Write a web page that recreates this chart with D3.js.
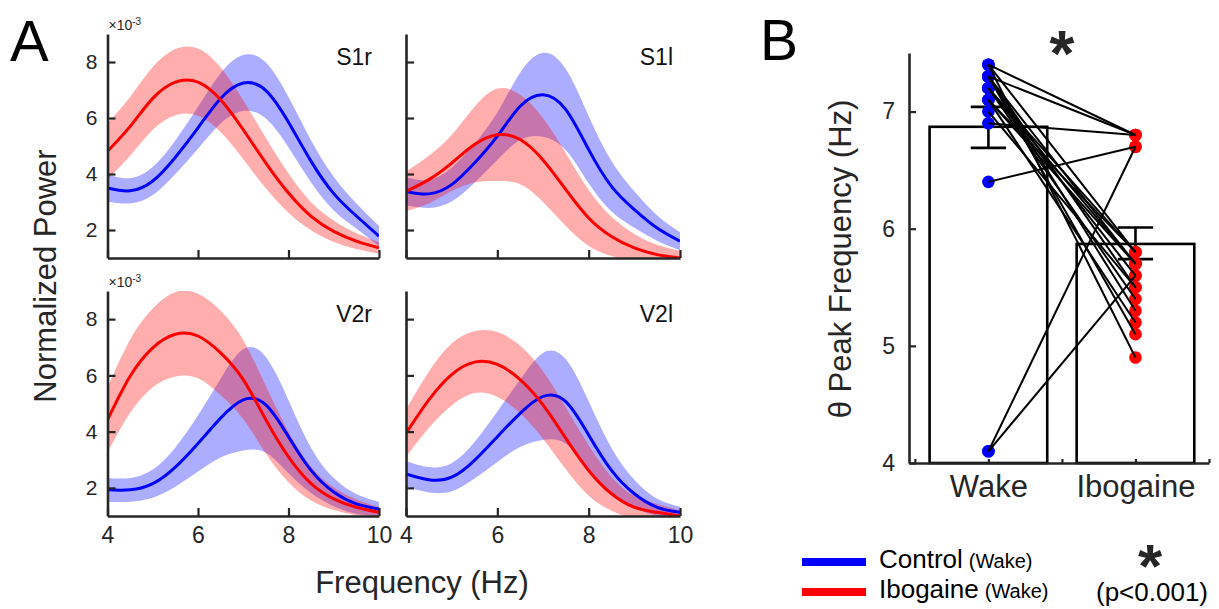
<!DOCTYPE html>
<html>
<head>
<meta charset="utf-8">
<script src="https://cdn.jsdelivr.net/npm/d3@7"></script>
<style>
  body { margin: 0; background: #fff; }
  text { font-family: "Liberation Sans", Arial, sans-serif; }
</style>
</head>
<body>
<svg id="chart" width="1219" height="609"></svg>
<script>
// ---- panel A data (normalized power, x10^-3) ----
var freqs = [4, 4.5, 5, 5.5, 6, 6.5, 7, 7.5, 8, 8.5, 9, 9.5, 10];

var s1rControl     = [3.50, 3.40, 3.75, 4.60, 5.65, 6.70, 7.25, 6.98, 5.85, 4.45, 3.30, 2.50, 1.78];
var s1rControlSem  = [0.48, 0.45, 0.50, 0.60, 0.75, 0.90, 1.00, 1.00, 0.90, 0.75, 0.60, 0.45, 0.36];
var s1rIbogaine    = [4.81, 5.70, 6.70, 7.28, 7.28, 6.65, 5.58, 4.39, 3.32, 2.49, 1.95, 1.60, 1.36];
var s1rIbogaineSem = [1.00, 1.05, 1.12, 1.18, 1.20, 1.15, 1.05, 0.90, 0.70, 0.50, 0.38, 0.28, 0.20];

var s1lControl     = [3.38, 3.29, 3.62, 4.39, 5.35, 6.42, 6.83, 6.30, 4.87, 3.56, 2.73, 2.07, 1.60];
var s1lControlSem  = [0.50, 0.50, 0.60, 0.70, 0.85, 1.20, 1.50, 1.45, 1.20, 0.90, 0.65, 0.45, 0.32];
var s1lIbogaine    = [3.38, 3.80, 4.39, 5.05, 5.40, 5.23, 4.50, 3.44, 2.43, 1.77, 1.36, 1.12, 1.00];
var s1lIbogaineSem = [0.70, 0.85, 1.00, 1.35, 1.65, 1.60, 1.50, 1.30, 1.00, 0.70, 0.50, 0.35, 0.25];

var v2rControl     = [1.93, 1.93, 2.15, 2.74, 3.58, 4.48, 5.13, 4.95, 3.82, 2.62, 1.85, 1.43, 1.25];
var v2rControlSem  = [0.42, 0.42, 0.50, 0.70, 1.00, 1.40, 1.80, 1.70, 1.30, 0.80, 0.50, 0.35, 0.25];
var v2rIbogaine    = [4.42, 5.97, 6.98, 7.46, 7.40, 6.80, 5.85, 4.42, 3.10, 2.15, 1.61, 1.31, 1.13];
var v2rIbogaineSem = [1.15, 1.30, 1.40, 1.50, 1.50, 1.50, 1.40, 1.20, 0.90, 0.60, 0.40, 0.28, 0.20];

var v2lControl     = [2.50, 2.29, 2.38, 2.98, 3.82, 4.65, 5.25, 5.07, 3.88, 2.62, 1.79, 1.31, 1.13];
var v2lControlSem  = [0.45, 0.45, 0.50, 0.65, 0.90, 1.20, 1.55, 1.50, 1.20, 0.80, 0.50, 0.30, 0.20];
var v2lIbogaine    = [3.94, 5.13, 6.03, 6.47, 6.39, 5.85, 4.95, 3.76, 2.62, 1.79, 1.31, 1.13, 1.00];
var v2lIbogaineSem = [0.85, 1.00, 1.10, 1.10, 1.15, 1.20, 1.20, 1.10, 0.90, 0.60, 0.40, 0.30, 0.20];

var freqTicks = [4, 6, 8, 10];
var powerTicks = [2, 4, 6, 8];

// ---- panel B data (theta peak frequency, Hz) ----
var conditions = ["Wake", "Ibogaine"];
var barMeans = [6.87, 5.87];
var barLow   = [6.69, 5.74];
var barHigh  = [7.04, 6.01];
// one entry per recording, paired
var wakePeaks     = [7.4, 7.3, 6.9, 6.4, 4.1, 4.1, 7.4, 7.4, 7.3, 7.3, 7.3, 7.3, 7.2, 7.2, 7.2, 7.2, 7.1, 7.1, 7.0, 7.1];
var ibogainePeaks = [6.8, 6.8, 6.8, 6.7, 6.7, 5.6, 5.8, 4.9, 5.7, 5.5, 5.1, 5.3, 5.8, 5.7, 5.6, 5.4, 5.8, 5.2, 5.5, 5.7];
var peakTicks = [4, 5, 6, 7];

var BLUE = "#0000ff", RED = "#ff0000", AXIS = "#262626";

var svg = d3.select("#chart");

// ---------------- panel A ----------------
var panels = [
  {name: "S1r", ctrl: s1rControl, ctrlSem: s1rControlSem, ibo: s1rIbogaine, iboSem: s1rIbogaineSem,
   left: 107.5, right: 379, bottom: 258, top: 34, yLab: true, xLab: false},
  {name: "S1l", ctrl: s1lControl, ctrlSem: s1lControlSem, ibo: s1lIbogaine, iboSem: s1lIbogaineSem,
   left: 406, right: 680, bottom: 258, top: 34, yLab: false, xLab: false},
  {name: "V2r", ctrl: v2rControl, ctrlSem: v2rControlSem, ibo: v2rIbogaine, iboSem: v2rIbogaineSem,
   left: 107.5, right: 379, bottom: 516, top: 291, yLab: true, xLab: true},
  {name: "V2l", ctrl: v2lControl, ctrlSem: v2lControlSem, ibo: v2lIbogaine, iboSem: v2lIbogaineSem,
   left: 406, right: 680, bottom: 516, top: 291, yLab: false, xLab: true}
];

function styleAxis(g, size) {
  g.attr("font-family", "Liberation Sans, Arial, sans-serif").attr("font-size", size);
  g.select(".domain").attr("stroke", AXIS).attr("stroke-width", 2.6);
  g.selectAll(".tick line").attr("stroke", AXIS).attr("stroke-width", 2.2);
  g.selectAll(".tick text").attr("fill", AXIS);
}

panels.forEach(function(p, i) {
  var x = d3.scaleLinear().domain([4, 10]).range([p.left, p.right]);
  var y = d3.scaleLinear().domain([1, 9]).range([p.bottom, p.top]);
  var g = svg.append("g");

  var clipId = "clip" + i;
  svg.append("clipPath").attr("id", clipId)
    .append("rect").attr("x", p.left).attr("y", p.top)
    .attr("width", p.right - p.left).attr("height", p.bottom - p.top);

  var area = d3.area()
    .x(function(d, j) { return x(freqs[j]); })
    .y0(function(d) { return y(d[0] - d[1]); })
    .y1(function(d) { return y(d[0] + d[1]); })
    .curve(d3.curveNatural);
  var line = d3.line()
    .x(function(d, j) { return x(freqs[j]); })
    .y(function(d) { return y(d); })
    .curve(d3.curveNatural);

  var plot = g.append("g").attr("clip-path", "url(#" + clipId + ")");
  plot.append("path").datum(d3.zip(p.ctrl, p.ctrlSem))
    .attr("d", area).attr("fill", BLUE).attr("fill-opacity", 0.32);
  plot.append("path").datum(d3.zip(p.ibo, p.iboSem))
    .attr("d", area).attr("fill", RED).attr("fill-opacity", 0.32);
  plot.append("path").datum(p.ctrl)
    .attr("d", line).attr("fill", "none").attr("stroke", BLUE).attr("stroke-width", 3);
  plot.append("path").datum(p.ibo)
    .attr("d", line).attr("fill", "none").attr("stroke", RED).attr("stroke-width", 3);

  // axes, MATLAB style: ticks point inward
  var yAxis = d3.axisLeft(y).tickValues(powerTicks).tickSizeInner(-8).tickSizeOuter(0).tickPadding(10)
    .tickFormat(p.yLab ? d3.format("d") : function() { return ""; });
  g.append("g").attr("transform", "translate(" + p.left + ",0)").call(yAxis).call(styleAxis, 21);

  var xAxis = d3.axisBottom(x).tickValues(freqTicks).tickSizeInner(-8).tickSizeOuter(0).tickPadding(11)
    .tickFormat(p.xLab ? d3.format("d") : function() { return ""; });
  g.append("g").attr("transform", "translate(0," + p.bottom + ")").call(xAxis).call(styleAxis, 23);

  // region name
  g.append("text").attr("x", p.right - 7).attr("y", p.top + 31)
    .attr("text-anchor", "end").attr("font-size", 23).attr("fill", "#111")
    .text(p.name);

  // exponent label on left panels
  if (p.yLab) {
    var ex = g.append("text").attr("x", p.left + 1).attr("y", p.top - 4)
      .attr("font-size", 14).attr("fill", AXIS);
    ex.append("tspan").text("\u00d710");
    ex.append("tspan").attr("dy", -5).attr("font-size", 10).text("-3");
  }
});

svg.append("text").attr("x", 10).attr("y", 61).attr("font-size", 58).attr("fill", "#000").text("A");
svg.append("text").attr("transform", "translate(56,276) rotate(-90)")
  .attr("text-anchor", "middle").attr("font-size", 31).attr("fill", AXIS).text("Normalized Power");
svg.append("text").attr("x", 422).attr("y", 593)
  .attr("text-anchor", "middle").attr("font-size", 31).attr("fill", AXIS).text("Frequency (Hz)");

// ---------------- panel B ----------------
var bx = d3.scaleLinear().domain([0.46, 2.5]).range([909, 1209]);
var by = d3.scaleLinear().domain([4, 7.5]).range([463, 53]);
var gB = svg.append("g");

// bars
gB.selectAll("rect.bar").data(barMeans).enter().append("rect")
  .attr("class", "bar")
  .attr("x", function(d, i) { return bx(i + 1 - 0.4); })
  .attr("width", function(d, i) { return bx(i + 1 + 0.4) - bx(i + 1 - 0.4); })
  .attr("y", function(d) { return by(d); })
  .attr("height", function(d) { return by(4) - by(d); })
  .attr("fill", "#fff").attr("stroke", "#000").attr("stroke-width", 2.6);

// error bars
conditions.forEach(function(c, i) {
  var cx = bx(i + 1), w = bx(i + 1.12) - bx(i + 1);
  var eb = gB.append("g").attr("stroke", "#000").attr("stroke-width", 2.6);
  eb.append("line").attr("x1", cx).attr("x2", cx).attr("y1", by(barLow[i])).attr("y2", by(barHigh[i]));
  eb.append("line").attr("x1", cx - w).attr("x2", cx + w).attr("y1", by(barLow[i])).attr("y2", by(barLow[i]));
  eb.append("line").attr("x1", cx - w).attr("x2", cx + w).attr("y1", by(barHigh[i])).attr("y2", by(barHigh[i]));
});

// individual points
gB.selectAll("circle.wake").data(wakePeaks).enter().append("circle")
  .attr("cx", bx(1)).attr("cy", function(d) { return by(d); }).attr("r", 6.3).attr("fill", BLUE);
gB.selectAll("circle.ibo").data(ibogainePeaks).enter().append("circle")
  .attr("cx", bx(2)).attr("cy", function(d) { return by(d); }).attr("r", 6.3).attr("fill", RED);

// paired lines
gB.selectAll("line.pair").data(d3.zip(wakePeaks, ibogainePeaks)).enter().append("line")
  .attr("x1", bx(1)).attr("x2", bx(2))
  .attr("y1", function(d) { return by(d[0]); })
  .attr("y2", function(d) { return by(d[1]); })
  .attr("stroke", "#000").attr("stroke-width", 2);

// axes
var byAxis = d3.axisLeft(by).tickValues(peakTicks).tickSizeInner(-7).tickSizeOuter(0).tickPadding(14)
  .tickFormat(d3.format("d"));
gB.append("g").attr("transform", "translate(909,0)").call(byAxis).call(styleAxis, 23);

var bxAxis = d3.axisBottom(bx).tickValues([0.5, 1, 1.5, 2, 2.5]).tickSizeInner(-4).tickSizeOuter(0).tickPadding(12)
  .tickFormat(function(d) { return d === 1 || d === 2 ? conditions[d - 1] : ""; });
gB.append("g").attr("transform", "translate(0,463)").call(bxAxis).call(styleAxis, 31);

svg.append("text").attr("x", 760).attr("y", 60).attr("font-size", 57).attr("fill", "#000").text("B");
svg.append("text").attr("transform", "translate(851,259) rotate(-90)")
  .attr("text-anchor", "middle").attr("font-size", 31).attr("fill", AXIS).text("\u03b8 Peak Frequency (Hz)");
svg.append("text").attr("x", 1062).attr("y", 76).attr("text-anchor", "middle")
  .attr("font-size", 64).attr("font-weight", "bold").attr("fill", AXIS).text("*");

// legend
var legendItems = [{label: "Control", color: BLUE}, {label: "Ibogaine", color: RED}];
legendItems.forEach(function(d, i) {
  var yy = 562 + i * 30;
  svg.append("line").attr("x1", 802).attr("x2", 866).attr("y1", yy).attr("y2", yy)
    .attr("stroke", d.color).attr("stroke-width", 8);
  var t = svg.append("text").attr("x", 879).attr("y", yy + 6).attr("font-size", 26).attr("fill", "#000");
  t.append("tspan").text(d.label);
  t.append("tspan").attr("font-size", 20).attr("dx", 6).text("(Wake)");
});
svg.append("text").attr("x", 1150).attr("y", 587).attr("text-anchor", "middle")
  .attr("font-size", 62).attr("font-weight", "bold").attr("fill", AXIS).text("*");
svg.append("text").attr("x", 1152).attr("y", 601).attr("text-anchor", "middle")
  .attr("font-size", 26).attr("fill", "#000").text("(p<0.001)");
</script>
</body>
</html>
